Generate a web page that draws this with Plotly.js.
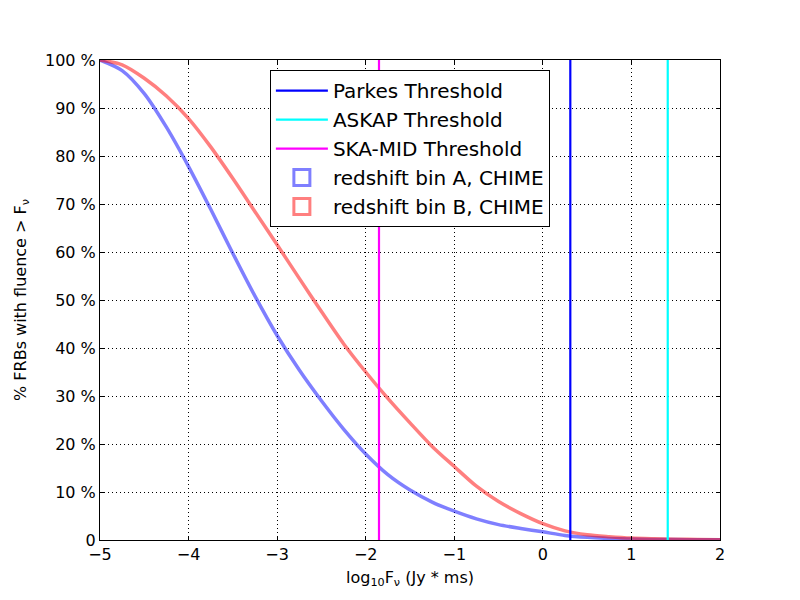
<!DOCTYPE html>
<html>
<head>
<meta charset="utf-8">
<script src="https://cdn.plot.ly/plotly-3.0.1.min.js"></script>
<style>
  body { margin: 0; background: #fff; }
  #grafica { width: 800px; height: 600px; }
</style>
</head>
<body>
<div id="grafica"></div>
<script>
// log10 fluence grid
var logF = [-5, -4.75, -4.5, -4.25, -4, -3.75, -3.5, -3.25, -3, -2.75, -2.5, -2.25, -2,
            -1.75, -1.5, -1.25, -1, -0.75, -0.5, -0.25, 0, 0.25, 0.5, 0.75, 1, 1.25, 1.5, 1.75, 2];

// % FRBs above fluence
var binA = [100, 97.8, 93.0, 86.0, 77.8, 68.9, 59.7, 50.8, 42.6, 35.4, 29.0, 23.1, 17.9,
            13.6, 10.4, 7.9, 6.0, 4.4, 3.2, 2.4, 1.7, 0.95, 0.55, 0.32, 0.2, 0.13, 0.09, 0.06, 0.04];
var binB = [100, 99.0, 96.2, 92.5, 87.8, 81.9, 75.3, 68.4, 61.5, 54.5, 47.6, 40.9, 35.0,
            29.5, 24.4, 19.5, 15.3, 11.2, 8.0, 5.5, 3.4, 1.9, 1.1, 0.7, 0.4, 0.26, 0.17, 0.11, 0.07];

// thresholds (log10 Jy ms)
var umbralNombres = ['Parkes Threshold', 'ASKAP Threshold', 'SKA-MID Threshold'];
var umbralValores = [0.31, 1.41, -1.85];
var umbralColores = ['#0000ff', '#00ffff', '#ff00ff'];

var curvaNombres = ['redshift bin A, CHIME', 'redshift bin B, CHIME'];
var curvaColores = ['rgba(0,0,255,0.5)', 'rgba(255,0,0,0.5)'];

var yTicks = [0, 10, 20, 30, 40, 50, 60, 70, 80, 90, 100];
var yTickText = ['0', '10 %', '20 %', '30 %', '40 %', '50 %', '60 %', '70 %', '80 %', '90 %', '100 %'];
var xTicks = [-5, -4, -3, -2, -1, 0, 1, 2];

function grafica_frb(){
    var data = [];
    var curvas = [binA, binB];

    for (var c = 0; c < curvas.length; c++) {
        data.push({
            x: logF, y: curvas[c], type: 'scatter', mode: 'lines',
            showlegend: false,
            line: {color: curvaColores[c], width: 3.5, shape: 'spline', smoothing: 0.8}
        });
    }

    for (var i = 0; i < umbralValores.length; i++) {
        data.push({
            x: [umbralValores[i], umbralValores[i]],
            y: [0, 100],
            type: 'scatter', mode: 'lines',
            name: umbralNombres[i], legendrank: i + 1,
            line: {color: umbralColores[i], width: 2.2}
        });
    }

    // legend entries for the curves, drawn as open boxes
    for (var k = 0; k < curvaNombres.length; k++) {
        data.push({
            x: [null], y: [null], type: 'scatter', mode: 'markers',
            name: curvaNombres[k], legendrank: 4 + k,
            marker: {symbol: 'square-open', size: 16, color: curvaColores[k],
                     line: {width: 3, color: curvaColores[k]}}
        });
    }

    var ejeComun = {
        showline: true, linecolor: 'black', linewidth: 1, mirror: 'ticks',
        ticks: 'inside', ticklen: 4, tickcolor: 'black',
        showgrid: true, gridcolor: 'black', griddash: '1px,3px', gridwidth: 1,
        zeroline: false
    };

    var layout = {
        width: 800, height: 600,
        margin: {t: 60, b: 60, l: 100, r: 80},
        paper_bgcolor: 'white', plot_bgcolor: 'white',
        font: {family: 'DejaVu Sans', size: 16, color: 'black'},
        showlegend: true,
        legend: {
            x: 0.274, y: 0.979, xanchor: 'left', yanchor: 'top',
            bordercolor: 'black', borderwidth: 1, bgcolor: 'white',
            font: {size: 20}, traceorder: 'normal', itemwidth: 52,
            tracegroupgap: 0
        },
        xaxis: Object.assign({}, ejeComun, {
            range: [-5, 2], tickvals: xTicks,
            title: {text: 'log<sub>10</sub>F<sub>ν</sub> (Jy * ms)', font: {size: 16}, standoff: 8}
        }),
        yaxis: Object.assign({}, ejeComun, {
            range: [0, 100], tickvals: yTicks, ticktext: yTickText,
            title: {text: '% FRBs with fluence > F<sub>ν</sub>', font: {size: 16}, standoff: 14}
        })
    };

    Plotly.newPlot('grafica', data, layout, {staticPlot: true});
}

grafica_frb();
</script>
</body>
</html>
